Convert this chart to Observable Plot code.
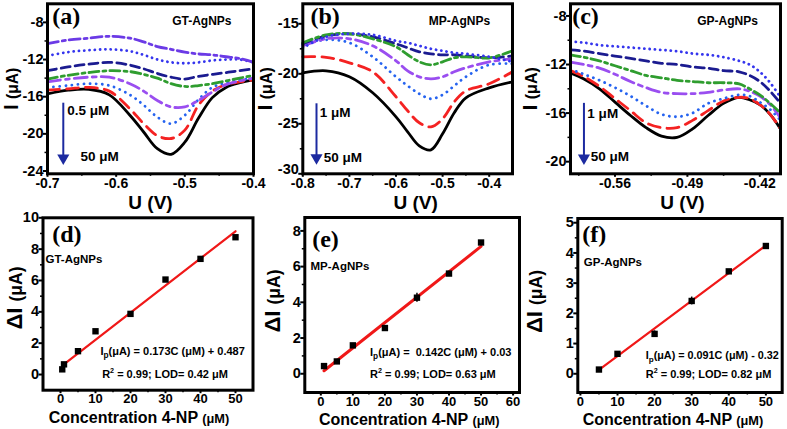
<!DOCTYPE html>
<html><head><meta charset="utf-8">
<script src="https://cdn.jsdelivr.net/npm/d3@7"></script>
<script src="https://cdn.jsdelivr.net/npm/@observablehq/plot@0.6"></script>
<style>
body{margin:0;background:#fff}
#fig{position:relative;width:787px;height:429px;overflow:hidden;background:#fff}
.panel{position:absolute}
.panel svg{overflow:visible;display:block}
</style></head><body><div id="fig"></div>
<script>
// ---------- Panel (a) GT-AgNPs : DPV curves ----------
const aU      = [-0.70, -0.67, -0.64, -0.61, -0.58, -0.56, -0.54, -0.52, -0.50, -0.48, -0.46, -0.44, -0.42, -0.40];
const aTop    = [-10.3, -9.9, -9.7, -9.5, -9.7, -10.1, -10.6, -10.9, -11.2, -11.4, -11.5, -11.7, -11.9, -12.3];
const aBlue1  = [-11.6, -11.2, -11.0, -10.9, -11.1, -11.5, -12.0, -12.3, -12.4, -12.3, -12.1, -12.0, -12.0, -12.3];
const aNavy   = [-13.2, -12.8, -12.5, -12.3, -12.6, -13.0, -13.5, -13.9, -14.1, -13.8, -13.6, -13.4, -13.2, -13.0];
const aGreen  = [-14.1, -13.7, -13.4, -13.2, -13.3, -13.6, -14.0, -14.6, -14.9, -14.8, -14.6, -14.3, -14.0, -13.7];
const aViolet = [-14.4, -14.1, -13.9, -13.9, -14.6, -15.4, -16.4, -17.1, -17.1, -16.4, -15.5, -14.7, -14.3, -14.0];
const aBlue2  = [-15.0, -14.8, -14.6, -14.8, -15.8, -16.9, -18.2, -18.9, -18.0, -16.3, -15.0, -14.5, -14.2, -14.0];
const aRed    = [-15.3, -15.15, -15.0, -15.4, -17.3, -18.9, -20.2, -20.5, -19.6, -16.9, -15.4, -14.7, -14.4, -14.2];
const aBlack  = [-15.7, -15.3, -15.2, -15.8, -18.0, -19.8, -21.6, -22.2, -20.9, -18.3, -16.1, -15.0, -14.5, -14.2];

// ---------- Panel (b) MP-AgNPs : DPV curves ----------
const bU      = [-0.80, -0.75, -0.70, -0.65, -0.60, -0.575, -0.55, -0.525, -0.50, -0.475, -0.45, -0.40, -0.35];
const bBlue1  = [-17.4, -16.3, -16.0, -16.1, -16.7, -16.9, -17.2, -17.5, -17.7, -17.9, -18.0, -18.3, -18.8];
const bNavy   = [-17.0, -16.2, -16.0, -16.3, -17.0, -17.4, -17.8, -18.0, -18.1, -18.1, -18.2, -18.4, -18.2];
const bGreen  = [-16.9, -16.1, -16.0, -16.5, -17.3, -18.1, -18.8, -19.1, -18.8, -18.4, -18.3, -18.4, -17.7];
const bViolet = [-17.2, -16.5, -16.5, -17.2, -18.7, -19.7, -20.3, -20.5, -20.3, -19.8, -19.4, -18.8, -18.5];
const bBlue2  = [-17.1, -16.6, -16.9, -18.3, -20.3, -21.2, -22.0, -22.5, -22.1, -21.2, -20.3, -19.1, -19.0];
const bRed    = [-18.3, -18.35, -18.9, -19.8, -22.3, -23.7, -24.9, -25.3, -24.5, -22.8, -21.7, -21.0, -19.8];
const bBlack  = [-19.9, -19.7, -20.3, -21.9, -24.3, -25.8, -27.2, -27.6, -26.0, -23.9, -22.4, -21.4, -20.8];

// ---------- Panel (c) GP-AgNPs : DPV curves ----------
const cU      = [-0.603, -0.59, -0.575, -0.56, -0.545, -0.53, -0.515, -0.50, -0.485, -0.47, -0.455, -0.44, -0.43, -0.42, -0.41, -0.40];
const cBlue1  = [-10.1, -10.2, -10.4, -10.5, -10.6, -10.7, -10.8, -10.9, -11.1, -11.2, -11.4, -11.7, -12.0, -12.6, -13.5, -14.7];
const cNavy   = [-10.8, -10.9, -11.1, -11.3, -11.5, -11.7, -11.9, -12.0, -12.2, -12.3, -12.5, -12.6, -12.9, -13.4, -14.2, -15.2];
const cGreen  = [-11.2, -11.4, -11.7, -12.1, -12.5, -12.9, -13.1, -13.3, -13.4, -13.5, -13.5, -13.6, -14.0, -14.5, -15.2, -16.0];
const cViolet = [-11.8, -12.0, -12.3, -12.8, -13.4, -13.9, -14.3, -14.4, -14.4, -14.3, -14.1, -14.0, -14.2, -14.6, -15.3, -16.4];
const cBlue2  = [-12.4, -12.8, -13.3, -13.9, -14.6, -15.4, -16.1, -16.3, -16.0, -15.2, -14.8, -14.5, -14.6, -15.1, -15.7, -16.6];
const cRed    = [-12.5, -13.0, -13.8, -14.8, -15.8, -16.8, -17.2, -17.2, -16.6, -15.8, -15.0, -14.7, -14.8, -15.3, -16.1, -17.3];
const cBlack  = [-12.7, -13.2, -14.0, -15.1, -16.2, -17.2, -17.9, -18.0, -17.3, -16.2, -15.2, -14.7, -14.9, -15.3, -16.1, -17.3];

// ---------- Calibration panels (d), (e), (f) ----------
const dConc = [0.5, 1, 5, 10, 20, 30, 40, 50];
const dDI   = [0.33, 0.65, 1.49, 2.76, 3.87, 6.06, 7.38, 8.76];
const dFitC = [0.5, 50];
const dFitI = [0.57, 9.14];

const eConc = [1, 5, 10, 20, 30, 40, 50];
const eDI   = [0.43, 0.69, 1.59, 2.56, 4.26, 5.61, 7.35];
const eErr  = [0, 0, 0, 0, 0.25, 0, 0.05];
const eFitC = [1, 50];
const eFitI = [0.17, 7.13];

const fConc = [5, 10, 20, 30, 40, 50];
const fDI   = [0.14, 0.66, 1.32, 2.41, 3.39, 4.23];
const fErr  = [0, 0, 0.1, 0.13, 0, 0.06];
const fFitC = [5, 50];
const fFitI = [0.13, 4.25];

// ---------- styles ----------
const lineStyle = {
  top:    {stroke: "#6b3ae6", strokeDasharray: "11,4,3,4"},
  blue1:  {stroke: "#3535ee", strokeDasharray: "0.1,5.2", strokeLinecap: "round"},
  navy:   {stroke: "#1b1b90", strokeDasharray: "9,5"},
  green:  {stroke: "#2f9d2f", strokeDasharray: "10,4,3,4"},
  violet: {stroke: "#9a4ef0", strokeDasharray: "13,5,4,5"},
  blue2:  {stroke: "#2563f0", strokeDasharray: "0.1,6", strokeLinecap: "round"},
  red:    {stroke: "#f42222", strokeDasharray: "12,7"},
  black:  {stroke: "#000000"}
};
const FONT = "'Liberation Sans', Arial, Helvetica, sans-serif";
const SERIF = "'Liberation Serif', 'Times New Roman', serif";
const ARROW = "#1c2aa0";
const YTF = 14.5;

function curveMarks(U, curves) {
  return curves.map(([name, arr]) => Plot.line(
    U.map((u, i) => ({u, v: arr[i]})),
    {x: "u", y: "v", curve: "catmull-rom", strokeWidth: 2.8, ...lineStyle[name]}
  ));
}

function richify(root) {
  root.querySelectorAll("text").forEach(t => {
    const s = t.textContent;
    if (!/[_^~]\{/.test(s)) return;
    const fs = parseFloat(getComputedStyle(t).fontSize) || 14;
    t.textContent = "";
    let shift = 0;
    for (const part of s.split(/([_^~]\{[^}]*\})/)) {
      if (!part) continue;
      const m = part.match(/^([_^~])\{([^}]*)\}$/);
      const ts = document.createElementNS("http://www.w3.org/2000/svg", "tspan");
      let target = 0, size = null;
      if (m) {
        if (m[1] === "_") { target = 0.3 * fs; size = 0.75 * fs; }
        else if (m[1] === "^") { target = -0.42 * fs; size = 0.65 * fs; }
        else { target = 0; size = 0.8 * fs; }
        ts.textContent = m[2];
      } else ts.textContent = part;
      if (size) ts.setAttribute("font-size", size);
      if (target !== shift) { ts.setAttribute("dy", target - shift); shift = target; }
      t.appendChild(ts);
    }
  });
}

const fig = document.getElementById("fig");

function makePanel(c) {
  const yMain = c.yLift ? c.yTicks.slice(1) : c.yTicks;
  const marks = [
    ...c.marks,
    Plot.axisX({ticks: c.xTicks, tickSize: 3.5, tickPadding: 0.5, tickFormat: d => String(d), strokeWidth: 2, fontSize: c.xTickFont, label: null}),
    Plot.axisY({ticks: yMain, tickSize: 4, tickPadding: 0, tickFormat: d => String(d), strokeWidth: 2, fontSize: YTF, label: null}),
    Plot.frame({strokeWidth: 3}),
    Plot.text([c.xTitle], {text: d => d, frameAnchor: "bottom", dx: c.xTitleDx || 0, dy: c.xTitleDy, lineAnchor: "middle", fontSize: c.xTitleSize, fontWeight: "bold"}),
    Plot.text([c.yTitle], {text: d => d, frameAnchor: "left", dx: c.yTitleDx, dy: c.yTitleDy || 0, rotate: -90, textAnchor: "middle", lineAnchor: "middle", fontSize: c.yTitleSize || 22, fontWeight: "bold"}),
    Plot.text([c.tag], {text: d => d, frameAnchor: "top-left", dx: c.tagDx, dy: c.tagDy, textAnchor: "start", lineAnchor: "top", fontSize: 24, fontFamily: SERIF, fontWeight: "bold"}),
    Plot.text([c.name], {text: d => d, frameAnchor: "top-left", dx: c.nameDx, dy: c.nameDy, textAnchor: "start", lineAnchor: "middle", fontSize: c.nameSize || 12, fontWeight: "bold"})
  ];
  if (c.yLift) {
    // lowest y tick: tick mark in place, its label nudged up so it clears the x tick label below
    marks.push(Plot.axisY({ticks: c.yTicks.slice(0, 1), tickSize: 4, tickFormat: () => "", strokeWidth: 2, label: null}));
    marks.push(Plot.axisY({ticks: c.yTicks.slice(0, 1), tickSize: 0, tickPadding: 4, dy: -c.yLift, tickFormat: d => String(d), fontSize: YTF, label: null}));
  }
  if (c.xMinor) marks.push(Plot.axisX({ticks: c.xMinor, tickSize: 2.5, tickFormat: () => "", strokeWidth: 1.5, label: null}));
  if (c.yMinor) marks.push(Plot.axisY({ticks: c.yMinor, tickSize: 2.5, tickFormat: () => "", strokeWidth: 1.5, label: null}));
  const svg = Plot.plot({
    width: c.width, height: c.height,
    marginLeft: c.mL, marginRight: c.mR, marginTop: c.mT, marginBottom: c.mB,
    x: {domain: c.xDomain, label: null},
    y: {domain: c.yDomain, label: null},
    style: {fontFamily: FONT, fontWeight: "bold", fontSize: "14px", background: "transparent", overflow: "visible", color: "#000"},
    marks
  });
  const div = document.createElement("div");
  div.className = "panel";
  div.style.left = c.left + "px";
  div.style.top = c.top + "px";
  div.appendChild(svg);
  fig.appendChild(div);
  richify(svg);
}

function arrowMarks(a) {
  return [
    Plot.ruleX([a], {x: "x", y1: "y1", y2: "y2", stroke: ARROW, strokeWidth: 2}),
    Plot.dot([a], {x: "x", y: "y2", symbol: "triangle", rotate: 180, r: 4.5, fill: ARROW, stroke: null}),
    Plot.text([a], {x: "lx1", y: "ly1", text: "t1", textAnchor: "start", fontSize: 13.5, fontWeight: "bold"}),
    Plot.text([a], {x: "lx2", y: "ly2", text: "t2", textAnchor: "start", fontSize: 13.5, fontWeight: "bold"})
  ];
}

function calMarks(C, D, fitC, fitI, err, fitWidth) {
  const pts = C.map((x, i) => ({x, y: D[i], e: err ? err[i] : 0}));
  const m = [
    Plot.line(fitC.map((x, i) => ({x, y: fitI[i]})), {x: "x", y: "y", stroke: "#f01818", strokeWidth: fitWidth}),
  ];
  if (err) m.push(Plot.ruleX(pts.filter(p => p.e > 0), {x: "x", y1: p => p.y - p.e, y2: p => p.y + p.e, stroke: "#000", strokeWidth: 1.5}));
  m.push(Plot.dot(pts, {x: "x", y: "y", symbol: "square", r: 3.6, fill: "#000", stroke: null}));
  return m;
}

// (a)
makePanel({
  left: 0, top: 0, width: 262, height: 214, mL: 47, mR: 9, mT: 3.3, mB: 40.7,
  xDomain: [-0.7, -0.4], yDomain: [-24.3, -6],
  xTicks: [-0.7, -0.6, -0.5, -0.4], xMinor: [-0.65, -0.55, -0.45], xTickFont: 14,
  yTicks: [-24, -20, -16, -12, -8], yMinor: [-22, -18, -14, -10],
  marks: [
    ...curveMarks(aU, [["black", aBlack], ["red", aRed], ["blue2", aBlue2], ["violet", aViolet], ["green", aGreen], ["navy", aNavy], ["blue1", aBlue1], ["top", aTop]]),
    ...arrowMarks({x: -0.677, y1: -16.7, y2: -22.6, lx1: -0.6713, ly1: -17.5, t1: "0.5 μM", lx2: -0.652, ly2: -22.5, t2: "50 μM"})
  ],
  xTitle: "U (V)", xTitleDy: 29, xTitleSize: 19,
  yTitle: "I ~{(μA)}", yTitleDx: -35.8, yTitleSize: 19.5,
  tag: "(a)", tagDx: 4.7, tagDy: 3.5,
  name: "GT-AgNPs", nameDx: 124.7, nameDy: 17.2
});

// (b)
makePanel({
  left: 262, top: 0, width: 262, height: 214, mL: 40.3, mR: 12, mT: 3.3, mB: 40.7,
  xDomain: [-0.8, -0.35], yDomain: [-30, -13],
  xTicks: [-0.8, -0.7, -0.6, -0.5, -0.4], xMinor: [-0.75, -0.65, -0.55, -0.45], xTickFont: 14,
  yTicks: [-30, -25, -20, -15], yMinor: [-27.5, -22.5, -17.5], yLift: 4,
  marks: [
    ...curveMarks(bU, [["black", bBlack], ["red", bRed], ["blue2", bBlue2], ["violet", bViolet], ["navy", bNavy], ["green", bGreen], ["blue1", bBlue1]]),
    ...arrowMarks({x: -0.7706, y1: -23.0, y2: -28.4, lx1: -0.7636, ly1: -23.9, t1: "1 μM", lx2: -0.755, ly2: -28.34, t2: "50 μM"})
  ],
  xTitle: "U (V)", xTitleDy: 29, xTitleDx: 8, xTitleSize: 19,
  yTitle: "I ~{(μA)}", yTitleDx: -37, yTitleSize: 20,
  tag: "(b)", tagDx: 7.7, tagDy: 3.5,
  name: "MP-AgNPs", nameDx: 126, nameDy: 17
});

// (c)
makePanel({
  left: 524, top: 0, width: 263, height: 214, mL: 46, mR: 7, mT: 3.3, mB: 40.7,
  xDomain: [-0.603, -0.4], yDomain: [-21, -7],
  xTicks: [-0.56, -0.49, -0.42], xMinor: [-0.595, -0.525, -0.455], xTickFont: 14,
  yTicks: [-20, -16, -12, -8], yMinor: [-18, -14, -10],
  marks: [
    ...curveMarks(cU, [["black", cBlack], ["red", cRed], ["blue2", cBlue2], ["violet", cViolet], ["green", cGreen], ["navy", cNavy], ["blue1", cBlue1]]),
    ...arrowMarks({x: -0.59, y1: -15.2, y2: -19.7, lx1: -0.5867, ly1: -16.04, t1: "1 μM", lx2: -0.5835, ly2: -19.63, t2: "50 μM"})
  ],
  xTitle: "U (V)", xTitleDy: 29, xTitleDx: 7, xTitleSize: 19,
  yTitle: "I ~{(μA)}", yTitleDx: -40, yTitleSize: 20,
  tag: "(c)", tagDx: 1.7, tagDy: 3.5,
  name: "GP-AgNPs", nameDx: 126.7, nameDy: 17.7
});

// (d)
makePanel({
  left: 0, top: 214, width: 262, height: 215, mL: 42.5, mR: 9.5, mT: 3.3, mB: 39.3,
  xDomain: [-5, 55], yDomain: [-1, 10],
  xTicks: [0, 10, 20, 30, 40, 50], xMinor: [5, 15, 25, 35, 45], xTickFont: 13,
  yTicks: [0, 2, 4, 6, 8, 10], yMinor: [1, 3, 5, 7, 9],
  marks: [
    ...calMarks(dConc, dDI, dFitC, dFitI, null, 2.2),
    Plot.text(["I_{p}(μA) = 0.173C (μM) + 0.487"], {x: 11.4, y: 1.5, text: d => d, textAnchor: "start", fontSize: 11}),
    Plot.text(["R^{2} = 0.99; LOD= 0.42 μM"], {x: 11.9, y: 0.03, text: d => d, textAnchor: "start", fontSize: 11})
  ],
  xTitle: "Concentration 4-NP ~{(μM)}", xTitleDy: 27.2, xTitleDx: -9, xTitleSize: 16,
  yTitle: "ΔI ~{(μA)}", yTitleDx: -28, yTitleDy: -6,
  tag: "(d)", tagDx: 9.2, tagDy: 7.2,
  name: "GT-AgNPs", nameDx: 2.5, nameDy: 41.5, nameSize: 11.5
});

// (e)
makePanel({
  left: 262, top: 214, width: 262, height: 215, mL: 42.3, mR: 5, mT: 3, mB: 37,
  xDomain: [-5, 62], yDomain: [-1.05, 8.75],
  xTicks: [0, 10, 20, 30, 40, 50, 60], xMinor: [5, 15, 25, 35, 45, 55], xTickFont: 13,
  yTicks: [0, 2, 4, 6, 8], yMinor: [1, 3, 5, 7],
  marks: [
    ...calMarks(eConc, eDI, eFitC, eFitI, eErr, 3),
    Plot.text(["I_{p}(μA) =  0.142C (μM) + 0.03"], {x: 15.36, y: 1.21, text: d => d, textAnchor: "start", fontSize: 11}),
    Plot.text(["R^{2} = 0.99; LOD= 0.63 μM"], {x: 15.36, y: -0.04, text: d => d, textAnchor: "start", fontSize: 11})
  ],
  xTitle: "Concentration 4-NP ~{(μM)}", xTitleDy: 27, xTitleDx: -3, xTitleSize: 16,
  yTitle: "ΔI ~{(μA)}", yTitleDx: -32, yTitleDy: -4,
  tag: "(e)", tagDx: 7.4, tagDy: 12.5,
  name: "MP-AgNPs", nameDx: 5.7, nameDy: 48.8, nameSize: 11.5
});

// (f)
makePanel({
  left: 524, top: 214, width: 263, height: 215, mL: 53.3, mR: 5.3, mT: 4, mB: 37,
  xDomain: [-0.7, 54.4], yDomain: [-0.62, 5.14],
  xTicks: [0, 10, 20, 30, 40, 50], xMinor: [5, 15, 25, 35, 45], xTickFont: 13,
  yTicks: [0, 1, 2, 3, 4, 5], yMinor: [0.5, 1.5, 2.5, 3.5, 4.5],
  marks: [
    ...calMarks(fConc, fDI, fFitC, fFitI, fErr, 2.2),
    Plot.text(["I_{p}(μA) = 0.091C (μM) - 0.32"], {x: 17.6, y: 0.606, text: d => d, textAnchor: "start", fontSize: 10.8}),
    Plot.text(["R^{2} = 0.99; LOD= 0.82 μM"], {x: 17.6, y: -0.02, text: d => d, textAnchor: "start", fontSize: 11})
  ],
  xTitle: "Concentration 4-NP ~{(μM)}", xTitleDy: 27, xTitleDx: -7, xTitleSize: 16,
  yTitle: "ΔI ~{(μA)}", yTitleDx: -43, yTitleDy: -4,
  tag: "(f)", tagDx: 4.4, tagDy: 6.5,
  name: "GP-AgNPs", nameDx: 6, nameDy: 43.7, nameSize: 11.5
});
</script></body></html>
